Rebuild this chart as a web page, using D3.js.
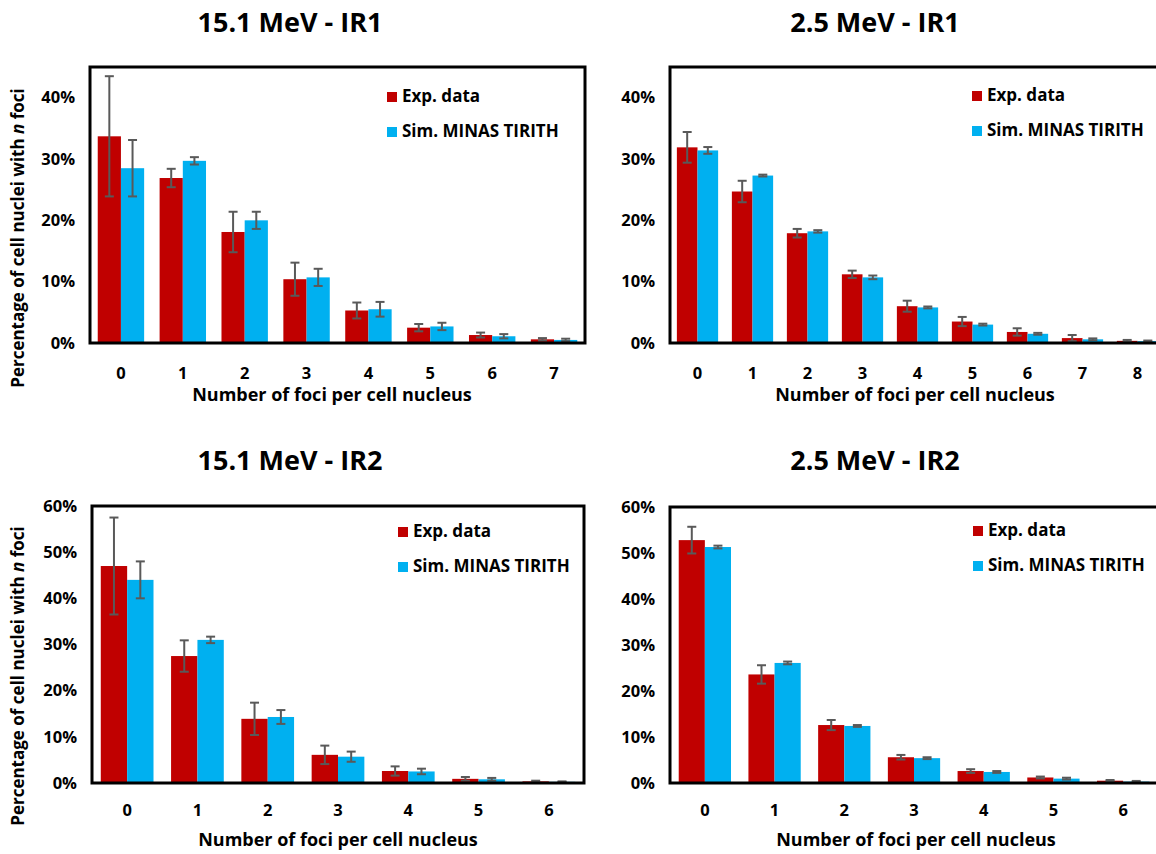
<!DOCTYPE html>
<html>
<head>
<meta charset="utf-8">
<script src="https://cdn.jsdelivr.net/npm/d3@7"></script>
<style>
  body { margin: 0; background: #fff; }
  svg text { font-family: "Open Sans", "DejaVu Sans", sans-serif; font-weight: bold; fill: #000; }
</style>
</head>
<body>
<script>
// categories (number of foci)
var foci151IR1 = ["0", "1", "2", "3", "4", "5", "6", "7"];
var foci25IR1 = ["0", "1", "2", "3", "4", "5", "6", "7", "8"];
var foci151IR2 = ["0", "1", "2", "3", "4", "5", "6"];
var foci25IR2 = ["0", "1", "2", "3", "4", "5", "6"];

// percentages, experiment and simulation, with error bars
var exp151IR1 = [33.7, 26.9, 18.1, 10.4, 5.3, 2.5, 1.3, 0.6];
var exp151IR1Err = [9.8, 1.5, 3.3, 2.7, 1.3, 0.6, 0.4, 0.2];
var sim151IR1 = [28.5, 29.7, 20.0, 10.7, 5.5, 2.7, 1.1, 0.5];
var sim151IR1Err = [4.6, 0.6, 1.4, 1.4, 1.2, 0.6, 0.35, 0.2];

var exp25IR1 = [31.9, 24.7, 17.9, 11.2, 6.0, 3.5, 1.8, 0.8, 0.35];
var exp25IR1Err = [2.5, 1.75, 0.7, 0.6, 0.9, 0.75, 0.6, 0.5, 0.15];
var sim25IR1 = [31.4, 27.3, 18.2, 10.7, 5.8, 3.0, 1.5, 0.6, 0.3];
var sim25IR1Err = [0.55, 0.15, 0.2, 0.3, 0.15, 0.15, 0.15, 0.15, 0.1];

var exp151IR2 = [47.0, 27.5, 13.9, 6.1, 2.6, 0.9, 0.35];
var exp151IR2Err = [10.5, 3.4, 3.5, 2.0, 1.0, 0.4, 0.15];
var sim151IR2 = [44.0, 31.0, 14.3, 5.7, 2.5, 0.8, 0.25];
var sim151IR2Err = [4.0, 0.7, 1.5, 1.1, 0.6, 0.3, 0.1];

var exp25IR2 = [52.8, 23.6, 12.6, 5.6, 2.6, 1.2, 0.5];
var exp25IR2Err = [2.9, 2.0, 1.1, 0.5, 0.4, 0.2, 0.15];
var sim25IR2 = [51.3, 26.1, 12.4, 5.4, 2.4, 0.95, 0.3];
var sim25IR2Err = [0.3, 0.3, 0.2, 0.2, 0.2, 0.2, 0.15];

var yTicksIR1 = [0, 10, 20, 30, 40];
var yTicksIR2 = [0, 10, 20, 30, 40, 50, 60];

var seriesNames = ["Exp. data", "Sim. MINAS TIRITH"];
var colors = ["#C00000", "#00B0F0"];

var svg = d3.select("body")
    .append("svg")
    .attr("width", 1156)
    .attr("height", 854);

function drawPanel(p) {
    var x = d3.scaleBand()
        .domain(p.cats)
        .range([p.left, p.right])
        .paddingInner(0.25)
        .paddingOuter(0.125);

    var sub = d3.scaleBand()
        .domain([0, 1])
        .range([0, x.bandwidth()]);

    var y = d3.scaleLinear()
        .domain([0, p.ymax])
        .range([p.bottom, p.top]);

    var rows = p.cats.map(function (c, i) {
        return [
            { cat: c, s: 0, v: p.exp[i], e: p.expErr[i] },
            { cat: c, s: 1, v: p.sim[i], e: p.simErr[i] }
        ];
    });
    var flat = [].concat.apply([], rows);

    var g = svg.append("g");

    // bars
    g.selectAll("rect.bar")
        .data(flat)
        .enter().append("rect")
        .attr("class", "bar")
        .attr("x", function (d) { return x(d.cat) + sub(d.s); })
        .attr("y", function (d) { return y(d.v); })
        .attr("width", sub.bandwidth())
        .attr("height", function (d) { return y(0) - y(d.v); })
        .attr("fill", function (d) { return colors[d.s]; });

    // error bars
    var eb = g.selectAll("g.err")
        .data(flat)
        .enter().append("g")
        .attr("class", "err")
        .attr("stroke", "#595959")
        .attr("stroke-width", 2);
    var cx = function (d) { return x(d.cat) + sub(d.s) + sub.bandwidth() / 2; };
    eb.append("line")
        .attr("x1", cx).attr("x2", cx)
        .attr("y1", function (d) { return y(d.v + d.e); })
        .attr("y2", function (d) { return y(Math.max(0, d.v - d.e)); });
    eb.append("line")
        .attr("x1", function (d) { return cx(d) - 4.5; })
        .attr("x2", function (d) { return cx(d) + 4.5; })
        .attr("y1", function (d) { return y(d.v + d.e); })
        .attr("y2", function (d) { return y(d.v + d.e); });
    eb.append("line")
        .attr("x1", function (d) { return cx(d) - 4.5; })
        .attr("x2", function (d) { return cx(d) + 4.5; })
        .attr("y1", function (d) { return y(Math.max(0, d.v - d.e)); })
        .attr("y2", function (d) { return y(Math.max(0, d.v - d.e)); });

    // frame
    g.append("rect")
        .attr("x", p.left)
        .attr("y", p.top)
        .attr("width", p.right - p.left)
        .attr("height", p.bottom - p.top)
        .attr("fill", "none")
        .attr("stroke", "#000")
        .attr("stroke-width", 3);

    // y axis labels
    var yAxis = g.append("g")
        .attr("transform", "translate(" + (p.left - 12) + ",0)")
        .call(d3.axisLeft(y).tickValues(p.yTicks).tickSize(0)
            .tickFormat(function (d) { return d + "%"; }));
    yAxis.select(".domain").remove();
    yAxis.selectAll("text")
        .attr("font-size", 16.5)
        .attr("fill", "#1a1a1a");

    // x axis labels
    var xAxis = g.append("g")
        .attr("transform", "translate(0," + (p.bottom + p.tickDy) + ")")
        .call(d3.axisBottom(x).tickSize(0));
    xAxis.select(".domain").remove();
    xAxis.selectAll("text")
        .attr("font-size", 16.5)
        .attr("fill", "#1a1a1a");

    // title and x title
    g.append("text")
        .attr("x", p.titleX)
        .attr("y", p.titleY)
        .attr("text-anchor", "middle")
        .attr("font-size", 27)
        .text(p.title);

    g.append("text")
        .attr("x", p.xTitleX)
        .attr("y", p.xTitleY)
        .attr("text-anchor", "middle")
        .attr("font-size", 18)
        .text("Number of foci per cell nucleus");

    // legend
    var leg = g.selectAll("g.leg")
        .data(seriesNames)
        .enter().append("g")
        .attr("class", "leg")
        .attr("transform", function (d, i) {
            return "translate(" + p.legX + "," + (p.legY + i * 35) + ")";
        });
    leg.append("rect")
        .attr("x", 0).attr("y", -10)
        .attr("width", 10).attr("height", 10)
        .attr("fill", function (d, i) { return colors[i]; });
    leg.append("text")
        .attr("x", 15)
        .attr("y", 0)
        .attr("font-size", 17)
        .attr("fill", "#1a1a1a")
        .text(function (d) { return d; });

    // y title
    if (p.yTitle) {
        var yt = g.append("text")
            .attr("transform", "translate(24," + p.yTitleY + ") rotate(-90)")
            .attr("text-anchor", "middle")
            .attr("font-size", 17);
        yt.append("tspan").text("Percentage of cell nuclei with ");
        yt.append("tspan").attr("font-style", "italic").text("n");
        yt.append("tspan").text(" foci");
    }
}

drawPanel({
    cats: foci151IR1, exp: exp151IR1, expErr: exp151IR1Err, sim: sim151IR1, simErr: sim151IR1Err,
    left: 90, right: 585, top: 67, bottom: 343, ymax: 45, yTicks: yTicksIR1,
    title: "15.1 MeV - IR1", titleX: 290, titleY: 32, xTitleX: 332, xTitleY: 401, tickDy: 21,
    legX: 387, legY: 102, yTitle: true, yTitleY: 238
});
drawPanel({
    cats: foci25IR1, exp: exp25IR1, expErr: exp25IR1Err, sim: sim25IR1, simErr: sim25IR1Err,
    left: 670, right: 1165, top: 67, bottom: 343, ymax: 45, yTicks: yTicksIR1,
    title: "2.5 MeV - IR1", titleX: 875, titleY: 32, xTitleX: 915, xTitleY: 401, tickDy: 21,
    legX: 972, legY: 101, yTitle: false
});
drawPanel({
    cats: foci151IR2, exp: exp151IR2, expErr: exp151IR2Err, sim: sim151IR2, simErr: sim151IR2Err,
    left: 92, right: 584, top: 506, bottom: 783, ymax: 60, yTicks: yTicksIR2,
    title: "15.1 MeV - IR2", titleX: 290, titleY: 470, xTitleX: 338, xTitleY: 846, tickDy: 18,
    legX: 398, legY: 537, yTitle: true, yTitleY: 676
});
drawPanel({
    cats: foci25IR2, exp: exp25IR2, expErr: exp25IR2Err, sim: sim25IR2, simErr: sim25IR2Err,
    left: 670, right: 1158, top: 507, bottom: 783, ymax: 60, yTicks: yTicksIR2,
    title: "2.5 MeV - IR2", titleX: 875, titleY: 470, xTitleX: 916, xTitleY: 846, tickDy: 18,
    legX: 973, legY: 536, yTitle: false
});
</script>
</body>
</html>
